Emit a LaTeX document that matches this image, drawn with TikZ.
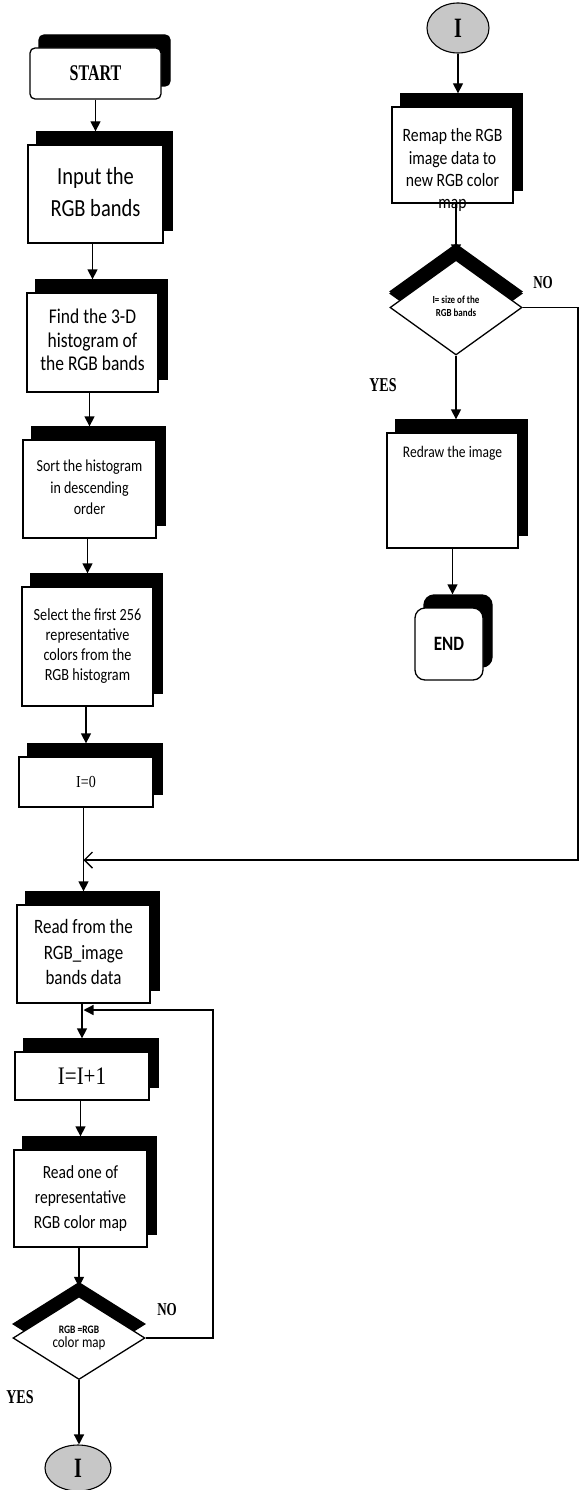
\documentclass[tikz,border=0pt]{standalone}
\usepackage{fontspec}
\usepackage{graphicx}
\setmainfont{Liberation Serif}
\newfontfamily\carl{Carlito}
\usetikzlibrary{shapes.geometric,shadows,arrows.meta}
\newcommand{\mlines}[3]{\scalebox{1}[1.2]{\fontsize{#1}{#2}\selectfont\begin{tabular}{@{}c@{}}#3\end{tabular}}}
\newcommand{\vst}[1]{\scalebox{1}[1.2]{#1}}
\newcommand{\vsl}[1]{\scalebox{1}[1.4]{#1}}
\begin{document}
\begin{tikzpicture}[x=1pt,y=-1pt,
  box/.style={draw, line width=1.3pt, fill=white, inner sep=0pt, font=\carl,
    copy shadow={shadow xshift=9pt, shadow yshift=13pt, fill=black, draw=black}},
  dia/.style={diamond, draw, line width=1.3pt, fill=white, inner sep=0pt, font=\carl,
    copy shadow={shadow xshift=0pt, shadow yshift=14pt, fill=black, draw=black}},
  conn/.style={line width=1.3pt},
  arr/.style={conn, -{Triangle[length=10pt,width=10pt]}},
  con/.style={ellipse, draw, line width=1.1pt, fill=black!22, inner sep=0pt,
    font=\bfseries\fontsize{20}{20}\selectfont},
  lab/.style={inner sep=0pt, font=\bfseries}
]
\useasboundingbox (0,0) rectangle (582,1490);

% left column
\node[box, rounded corners=5pt, minimum width=131pt, minimum height=51pt] (start) at (95.5,73.5)
  {\vsl{\rmfamily\bfseries\fontsize{16}{16}\selectfont START}};
\node[box, minimum width=135pt, minimum height=98pt] (input) at (95.5,194)
  {\mlines{20.5}{26.5}{Input the\\RGB bands}};
\node[box, minimum width=131pt, minimum height=99pt] (find) at (92.5,342.5)
  {\mlines{17.5}{19.5}{Find the 3-D\\histogram of\\the RGB bands}};
\node[box, minimum width=133pt, minimum height=98pt] (sort) at (89.5,489)
  {\mlines{14}{18}{Sort the histogram\\in descending\\order}};
\node[box, minimum width=131pt, minimum height=119pt] (select) at (87.5,646.5)
  {\mlines{14.2}{16.7}{Select the first 256\\representative\\colors from the\\RGB histogram}};
\node[box, minimum width=134pt, minimum height=50pt] (izero) at (86,782)
  {\vst{\rmfamily\fontsize{14}{14}\selectfont I=0}};
\node[box, minimum width=133pt, minimum height=98pt] (read) at (83.5,954)
  {\mlines{17}{21}{Read from the\\RGB\_image\\bands data}};
\node[box, minimum width=134pt, minimum height=48pt] (inc) at (82,1076)
  {\vst{\rmfamily\fontsize{21}{21}\selectfont I=I+1}};
\node[box, minimum width=133pt, minimum height=97pt] (readone) at (80.5,1198.5)
  {\mlines{15.5}{21}{Read one of\\representative\\RGB color map}};
\node[dia, minimum width=132pt, minimum height=83pt] (dia1) at (79,1338)
  {\scalebox{1}[1.2]{\begin{tabular}{@{}c@{}}\fontsize{9.5}{10}\selectfont\bfseries RGB =RGB\\[-1pt]\fontsize{13}{14}\selectfont color map\end{tabular}}};
\node[con, minimum width=66pt, minimum height=46pt] (c1) at (78,1468) {\vsl{I}};

% right column
\node[con, minimum width=62pt, minimum height=50pt] (c2) at (458,28) {\vsl{I}};
\node[box, minimum width=121pt, minimum height=96pt,
  label={[font=\carl, yshift=-16pt]center:\mlines{15.7}{18.6}{Remap the RGB\\image data to\\new RGB color\\map}}]
  (remap) at (452.5,155) {};
\node[dia, minimum width=132pt, minimum height=95pt,
  copy shadow={shadow xshift=0pt, shadow yshift=16pt, fill=black, draw=black}] (dia2) at (456,307.5)
  {\mlines{9}{11}{\bfseries I= size of the\\\bfseries RGB bands}};
\node[box, minimum width=131pt, minimum height=115pt,
  label={[font=\carl, yshift=37.5pt]center:\vst{\fontsize{13.5}{14}\selectfont Redraw the image}}]
  (redraw) at (452.5,490.5) {};
\node[box, rounded corners=10pt, minimum width=68pt, minimum height=72pt] (end) at (449,644)
  {\vst{\bfseries\fontsize{17}{17}\selectfont END}};

% labels
\node[lab] (no1) at (543,283) {\vsl{\fontsize{13}{13}\selectfont NO}};
\node[lab] (yes1) at (383,385) {\vsl{\fontsize{14}{14}\selectfont YES}};
\node[lab] (no2) at (167,1310) {\vsl{\fontsize{13}{13}\selectfont NO}};
\node[lab] (yes2) at (20,1397) {\vsl{\fontsize{14}{14}\selectfont YES}};

% connectors left
\draw[arr, shorten >=13pt] (input.north |- start.south) -- (input.north);
\draw[arr, shorten >=13pt] (find.north |- input.south) -- (find.north);
\draw[arr, shorten >=13pt] (sort.north |- find.south) -- (sort.north);
\draw[arr, shorten >=13pt] (select.north |- sort.south) -- (select.north);
\draw[arr, shorten >=13pt] (izero.north |- select.south) -- (izero.north);
\draw[arr, shorten >=13pt] (read.north |- izero.south) -- (read.north);
\draw[arr, shorten >=13pt] (inc.north |- read.south) -- (inc.north);
\draw[arr, shorten >=13pt] (readone.north |- inc.south) -- (readone.north);
\draw[arr, shorten >=9pt] (dia1.north |- readone.south) -- (dia1.north);
\draw[arr] (dia1.south) -- (dia1.south |- c1.north);

% connectors right
\draw[arr, shorten >=13pt] (c2.south) -- (c2.south |- remap.north);
\draw[arr, shorten >=5pt] (dia2.north |- remap.south) -- (dia2.north);
\draw[arr, shorten >=13pt] (dia2.south) -- (dia2.south |- redraw.north);
\draw[arr, shorten >=13pt] (redraw.south) -- (redraw.south |- end.north);

% loops
\coordinate (r1) at (578,310);
\coordinate (r2) at (578,860);
\draw[conn, -{Straight Barb[length=8pt,width=16pt,line width=1.4pt]}]
  (dia2.east) -- (dia2.east -| r1) -- (r2) -- (r2 -| read.north);
\coordinate (l2) at (213,1010);
\draw[arr] (dia1.east) -- (dia1.east -| l2) -- (l2) -- (l2 -| read.south);
\end{tikzpicture}
\end{document}
